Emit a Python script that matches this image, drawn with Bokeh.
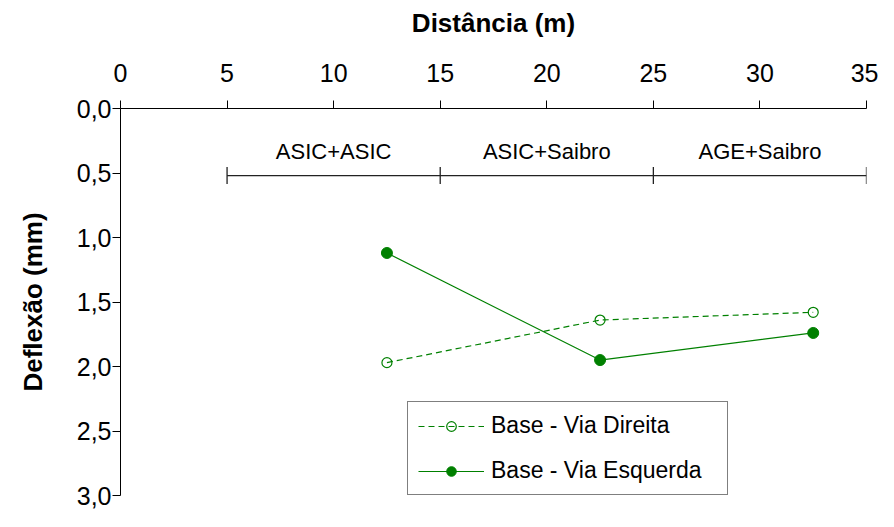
import math
from bokeh.plotting import figure
from bokeh.models import (Range1d, SingleIntervalTicker, CustomJSTickFormatter,
                          Legend, LegendItem)
from bokeh.core.properties import value
from bokeh.embed import file_html
from bokeh.resources import INLINE

# ---- data ----
distancia = [12.5, 22.5, 32.5]
via_direita = [1.97, 1.64, 1.58]
via_esquerda = [1.12, 1.95, 1.74]

trecho_limites = [5, 15, 25, 35]
trecho_centros = [10, 20, 30]
trecho_nomes = ["ASIC+ASIC", "ASIC+Saibro", "AGE+Saibro"]
trecho_prof = 0.52
trecho_texto_prof = 0.33

GREEN = "#008000"
FONT = "Liberation Sans"

p = figure(frame_width=746, frame_height=387,
           x_range=Range1d(0, 35), y_range=Range1d(3, 0),
           x_axis_location="above", output_backend="svg", toolbar_location=None,
           min_border_left=120, min_border_right=12, min_border_top=108,
           min_border_bottom=16)
p.outline_line_color = None
p.xgrid.visible = False
p.ygrid.visible = False
p.background_fill_color = "white"
p.border_fill_color = "white"

# axes
p.xaxis.ticker = SingleIntervalTicker(interval=5)
p.yaxis.ticker = SingleIntervalTicker(interval=0.5)
p.yaxis.formatter = CustomJSTickFormatter(code="return tick.toFixed(1).replace('.', ',');")
p.xaxis.axis_label = "Distância (m)"
p.yaxis.axis_label = "Deflexão (mm)"
for ax in (p.xaxis, p.yaxis):
    ax.axis_line_color = "black"
    ax.axis_line_width = 1
    ax.major_tick_line_color = "black"
    ax.major_tick_out = 8
    ax.major_tick_in = 0
    ax.minor_tick_line_color = None
    ax.major_label_text_font = FONT
    ax.major_label_text_font_size = "25px"
    ax.major_label_text_color = "black"
    ax.axis_label_text_font = FONT
    ax.axis_label_text_font_size = "26px"
    ax.axis_label_text_font_style = "bold"
    ax.axis_label_text_color = "black"
p.xaxis.major_label_standoff = 19
p.xaxis.axis_label_standoff = 23
p.yaxis.major_label_standoff = 1
p.yaxis.axis_label_standoff = 26

# section bracket
p.segment(x0=[trecho_limites[0]], y0=[trecho_prof], x1=[trecho_limites[-1]], y1=[trecho_prof],
          line_color="#222222", line_width=1.3)
p.scatter(x=trecho_limites, y=[trecho_prof] * len(trecho_limites), marker="dash",
          angle=math.pi / 2, size=17, line_color="#222222", line_width=1.3)
p.text(x=trecho_centros, y=[trecho_texto_prof] * len(trecho_centros), text=trecho_nomes,
       text_font=value(FONT), text_font_size="22px", text_align="center",
       text_baseline="middle", text_color="black")

# series
l_dir = p.line(distancia, via_direita, line_color=GREEN, line_width=1.2, line_dash="6 4")
s_dir = p.scatter(distancia, via_direita, marker="circle", size=10, fill_color=None,
                  line_color=GREEN, line_width=1.2)
l_esq = p.line(distancia, via_esquerda, line_color=GREEN, line_width=1.2)
s_esq = p.scatter(distancia, via_esquerda, marker="circle", size=11, fill_color=GREEN,
                  line_color=GREEN)

legend = Legend(items=[LegendItem(label="Base - Via Direita", renderers=[l_dir, s_dir]),
                       LegendItem(label="Base - Via Esquerda", renderers=[l_esq, s_esq])],
                location=(287, 0))
legend.border_line_color = "black"
legend.border_line_width = 1
legend.background_fill_color = "white"
legend.background_fill_alpha = 1
legend.padding = 10
legend.spacing = 18
legend.margin = 0
legend.glyph_width = 66
legend.glyph_height = 24
legend.label_height = 24
legend.label_standoff = 7
legend.label_width = 226
legend.label_text_font = FONT
legend.label_text_font_size = "23px"
legend.label_text_color = "black"
p.add_layout(legend)

open("out.html", "w").write(file_html(p, INLINE))
